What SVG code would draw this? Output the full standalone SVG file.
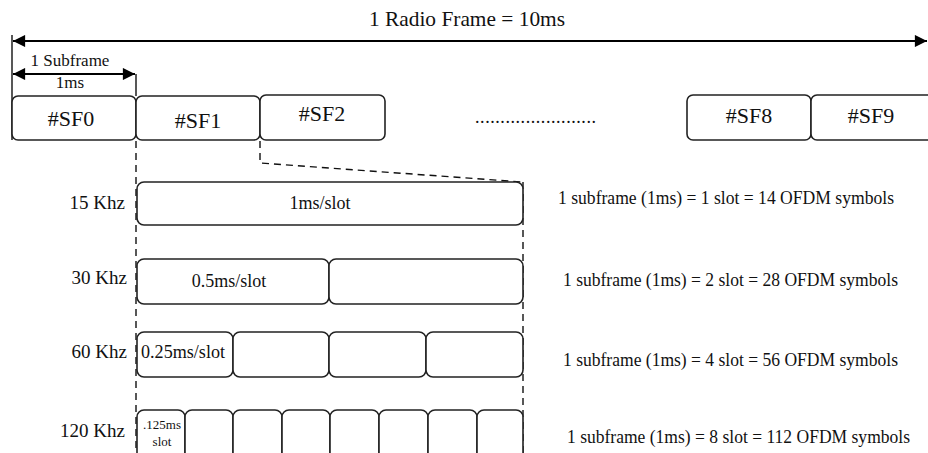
<svg xmlns="http://www.w3.org/2000/svg" width="928" height="453" viewBox="0 0 928 453">
<defs>
<marker id="ah" viewBox="0 0 10 10" refX="10" refY="5" markerWidth="6" markerHeight="5.5" markerUnits="strokeWidth" orient="auto-start-reverse"><path d="M0,0 L10,5 L0,10 z" fill="#000"/></marker>
<style>
.t{font-family:"Liberation Serif","Times New Roman",serif;fill:#111}
.box{fill:#fff;stroke:#222;stroke-width:1.6}
.arr{stroke:#000;stroke-width:2.2;fill:none}
.ln{stroke:#111;stroke-width:1.4;fill:none}
.dash{stroke:#111;stroke-width:1.4;fill:none;stroke-dasharray:7,5}
</style>
</defs>
<rect width="928" height="453" fill="#fff"/>
<g id="connectors">
<line class="ln" x1="12" y1="35" x2="12" y2="140"/>
<line class="ln" x1="136" y1="74" x2="136" y2="96"/>
<line class="arr" x1="13" y1="41" x2="927" y2="41" marker-start="url(#ah)" marker-end="url(#ah)"/>
<line class="arr" x1="13" y1="74" x2="135" y2="74" marker-start="url(#ah)" marker-end="url(#ah)"/>
<line class="dash" x1="136" y1="141" x2="136" y2="453"/>
<polyline class="dash" points="260,141 260,163 522,182"/>
<line class="dash" x1="523" y1="182" x2="523" y2="453"/>
</g>
<g id="title"><text class="t" x="369" y="26" font-size="21" textLength="196" lengthAdjust="spacingAndGlyphs">1 Radio Frame = 10ms</text></g>
<g id="subframe-label">
<text class="t" x="70" y="66" font-size="17" text-anchor="middle">1 Subframe</text>
<text class="t" x="70" y="88" font-size="17" text-anchor="middle">1ms</text>
</g>
<g id="sf0"><rect class="box" x="12" y="96" width="124" height="44" rx="6"/><text class="t" x="71" y="126" font-size="22" text-anchor="middle">#SF0</text></g>
<g id="sf1"><rect class="box" x="136" y="96" width="124" height="44" rx="6"/><text class="t" x="198" y="128" font-size="22" text-anchor="middle">#SF1</text></g>
<g id="sf2"><rect class="box" x="260" y="95" width="125" height="45" rx="6"/><text class="t" x="322" y="121" font-size="22" text-anchor="middle">#SF2</text></g>
<g id="dots"><text class="t" x="475" y="123" font-size="18" textLength="121">........................</text></g>
<g id="sf8"><rect class="box" x="687" y="95" width="124" height="45" rx="6"/><text class="t" x="749" y="123" font-size="22" text-anchor="middle">#SF8</text></g>
<g id="sf9"><rect class="box" x="811" y="95" width="124" height="45" rx="6"/><text class="t" x="871" y="123" font-size="22" text-anchor="middle">#SF9</text></g>

<g id="row15">
<text class="t" x="125" y="209" font-size="19" text-anchor="end">15 Khz</text>
<rect class="box" x="137" y="182" width="386" height="43" rx="7"/>
<text class="t" x="320" y="209" font-size="18" text-anchor="middle">1ms/slot</text>
<text class="t" x="558" y="204" font-size="18" textLength="336" lengthAdjust="spacingAndGlyphs">1 subframe (1ms) = 1 slot = 14 OFDM symbols</text>
</g>
<g id="row30">
<text class="t" x="127" y="284" font-size="19" text-anchor="end">30 Khz</text>
<rect class="box" x="137" y="259" width="192" height="45" rx="7"/>
<rect class="box" x="329" y="259" width="194" height="45" rx="7"/>
<text class="t" x="229" y="287" font-size="18" text-anchor="middle">0.5ms/slot</text>
<text class="t" x="563" y="286" font-size="18" textLength="335" lengthAdjust="spacingAndGlyphs">1 subframe (1ms) = 2 slot = 28 OFDM symbols</text>
</g>
<g id="row60">
<text class="t" x="127" y="358" font-size="19" text-anchor="end">60 Khz</text>
<rect class="box" x="137" y="332" width="96" height="45" rx="7"/>
<rect class="box" x="233" y="332" width="96" height="45" rx="7"/>
<rect class="box" x="329" y="332" width="97" height="45" rx="7"/>
<rect class="box" x="426" y="332" width="97" height="45" rx="7"/>
<text class="t" x="141" y="358" font-size="18" textLength="84" lengthAdjust="spacingAndGlyphs">0.25ms/slot</text>
<text class="t" x="563" y="366" font-size="18" textLength="335" lengthAdjust="spacingAndGlyphs">1 subframe (1ms) = 4 slot = 56 OFDM symbols</text>
</g>
<g id="row120">
<text class="t" x="125" y="437" font-size="19" text-anchor="end">120 Khz</text>
<rect class="box" x="137" y="410" width="48" height="60" rx="7"/>
<rect class="box" x="185" y="410" width="48" height="60" rx="7"/>
<rect class="box" x="233" y="410" width="49" height="60" rx="7"/>
<rect class="box" x="282" y="410" width="48" height="60" rx="7"/>
<rect class="box" x="330" y="410" width="49" height="60" rx="7"/>
<rect class="box" x="379" y="410" width="49" height="60" rx="7"/>
<rect class="box" x="428" y="410" width="49" height="60" rx="7"/>
<rect class="box" x="477" y="410" width="46" height="60" rx="7"/>
<text class="t" x="162" y="429" font-size="13" text-anchor="middle">.125ms</text>
<text class="t" x="162" y="446" font-size="13" text-anchor="middle">slot</text>
<text class="t" x="567" y="443" font-size="18" textLength="343" lengthAdjust="spacingAndGlyphs">1 subframe (1ms) = 8 slot = 112 OFDM symbols</text>
</g>
</svg>
